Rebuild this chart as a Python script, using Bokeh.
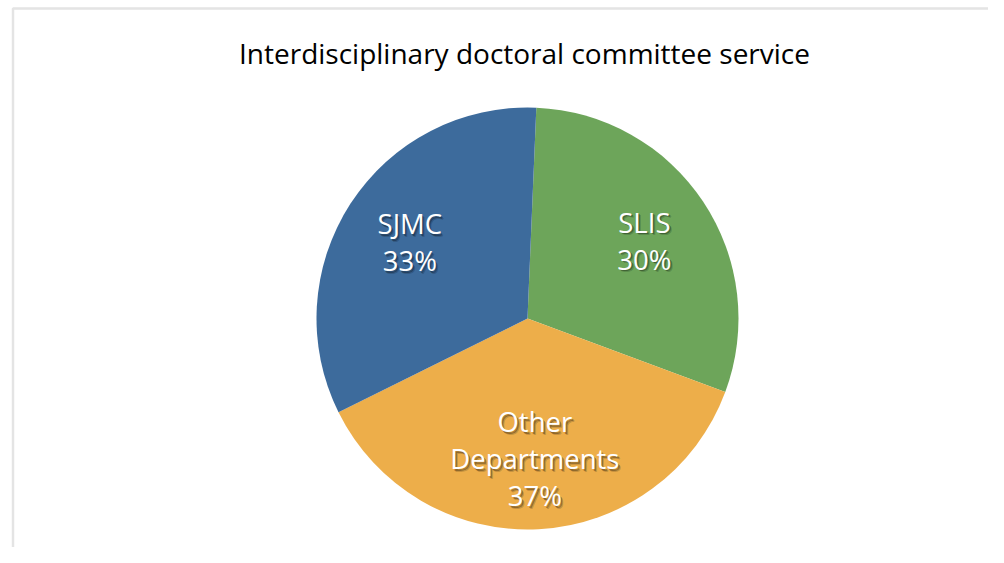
import math
from bokeh.plotting import figure
from bokeh.models import Range1d
from bokeh.core.properties import value
from bokeh.embed import file_html
from bokeh.resources import INLINE

# ---- data ----
title_text = "Interdisciplinary doctoral committee service"
categories = ["SLIS", "Other\nDepartments", "SJMC"]
percents = [30, 37, 33]
colors = ["#6DA55A", "#EDAE4A", "#3D6B9C"]

W, H = 988, 547
p = figure(width=W, height=H, output_backend="svg", toolbar_location=None,
           x_range=Range1d(0, W), y_range=Range1d(0, H), min_border=0)
p.axis.visible = False
p.grid.visible = False
p.outline_line_color = None
p.background_fill_color = "white"
p.border_fill_color = "white"

# chart frame border (only top and left visible)
p.quad(left=[12.5], right=[W + 50], top=[H - 8], bottom=[-50],
       fill_color=None, line_color="#E4E4E4", line_width=2.5)

cx, cy, R = 527, H - 318, 211
start_offset = math.radians(2.4)  # first slice begins just right of 12 o'clock

total = sum(percents)
starts, ends, mids = [], [], []
acc = 0.0
for v in percents:
    a0 = math.pi / 2 - start_offset - 2 * math.pi * acc / total
    acc += v
    a1 = math.pi / 2 - start_offset - 2 * math.pi * acc / total
    starts.append(a0)
    ends.append(a1)
    mids.append((a0 + a1) / 2)

p.wedge(x=[cx] * len(percents), y=[cy] * len(percents), radius=R,
        start_angle=ends, end_angle=starts, direction="anticlock",
        fill_color=colors, line_color=None)

font = value("Open Sans")
fs = "27.5px"
lh = 37
for cat, v, m in zip(categories, percents, mids):
    lx = cx + 0.665 * R * math.cos(m)
    ly = cy + 0.665 * R * math.sin(m)
    lines = cat.split("\n") + [f"{v}%"]
    n = len(lines)
    for i, t in enumerate(lines):
        off = (i - (n - 1) / 2) * lh
        for dx, dy, a in [(2.5, 2.5, 0.18), (1.5, 1.5, 0.3)]:
            p.text(x=[lx], y=[ly], text=[t], x_offset=dx, y_offset=off + dy,
                   text_font=font, text_font_size=fs, text_color="black",
                   text_alpha=a, text_align="center", text_baseline="middle")
        p.text(x=[lx], y=[ly], text=[t], y_offset=off,
               text_font=font, text_font_size=fs, text_color="white",
               text_align="center", text_baseline="middle")

p.text(x=[524], y=[H - 52], text=[title_text],
       text_font=font, text_font_size="28px", text_color="black",
       text_align="center", text_baseline="middle")

open("out.html", "w").write(file_html(p, INLINE))
